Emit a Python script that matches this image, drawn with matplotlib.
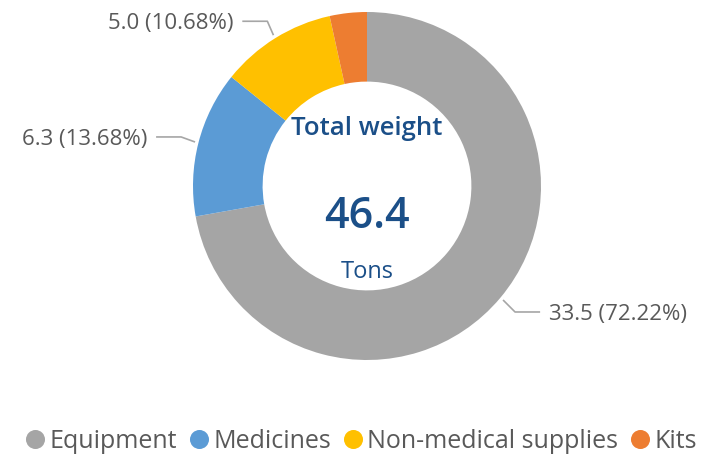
import numpy as np
import matplotlib
matplotlib.use("Agg")
import matplotlib.pyplot as plt
from matplotlib.lines import Line2D

categories = ["Equipment", "Medicines", "Non-medical supplies", "Kits"]
values = [33.5, 6.3, 5.0, 1.6]
percent_labels = ["72.22%", "13.68%", "10.68%", "3.42%"]
colors = ["#A5A5A5", "#5B9BD5", "#FFC000", "#ED7D31"]
total_label = "46.4"
show_label = [True, True, True, False]
# leader-line elbow offsets (style, in axis units) per slice
elbow_dx = [0.069, -0.08, -0.035, 0.0]
elbow_dy = [-0.069, 0.029, 0.08, 0.0]

plt.rcParams['font.family'] = ['Open Sans', 'DejaVu Sans']
W, H = 705, 458
fig = plt.figure(figsize=(W / 100, H / 100), dpi=100)
cx, cy, R = 367, 186, 174
ax = fig.add_axes([(cx - R) / W, (H - cy - R) / H, 2 * R / W, 2 * R / H])

wedges, _ = ax.pie(values, colors=colors, startangle=90, counterclock=False,
                   radius=1.0, wedgeprops=dict(width=0.4, linewidth=0))
ax.set_xlim(-1, 1)
ax.set_ylim(-1, 1)
ax.set_aspect('equal')
ax.axis('off')

label_color = "#595959"
line_color = "#A6A6A6"
for w, v, p, show, dx, dy in zip(wedges, values, percent_labels, show_label, elbow_dx, elbow_dy):
    if not show:
        continue
    ang = np.deg2rad((w.theta1 + w.theta2) / 2)
    x0, y0 = 1.02 * np.cos(ang), 1.02 * np.sin(ang)
    side = 1 if np.cos(ang) > 0 else -1
    ex, ey = x0 + dx, y0 + dy
    hx = ex + side * 0.144
    ax.plot([x0, ex, hx], [y0, ey, ey], color=line_color, lw=1.2,
            clip_on=False, solid_capstyle='butt')
    ax.text(hx + side * 0.052, ey - 0.012, f"{v:.1f} ({p})",
            ha='left' if side > 0 else 'right',
            va='center', fontsize=16, color=label_color, clip_on=False)

blue = "#1B4F88"
ax.text(0, 0.293, "Total weight", ha='center', va='baseline', fontsize=18.5,
        color=blue, fontweight='semibold')
ax.text(0, -0.241, total_label, ha='center', va='baseline', fontsize=31,
        color=blue, fontweight='semibold')
ax.text(0, -0.529, "Tons", ha='center', va='baseline', fontsize=17, color=blue)

handles = [Line2D([0], [0], marker='o', linestyle='none', markersize=13.7,
                  markerfacecolor=c, markeredgecolor=c, markeredgewidth=0) for c in colors]
fig.legend(handles, categories, loc='center', bbox_to_anchor=(361 / W, 1 - 441 / H),
           ncol=4, frameon=False, fontsize=18, labelcolor=label_color,
           handletextpad=0.18, columnspacing=0.49, handlelength=0.78,
           borderpad=0, borderaxespad=0)

fig.savefig("out.png", dpi=100, facecolor='white')
